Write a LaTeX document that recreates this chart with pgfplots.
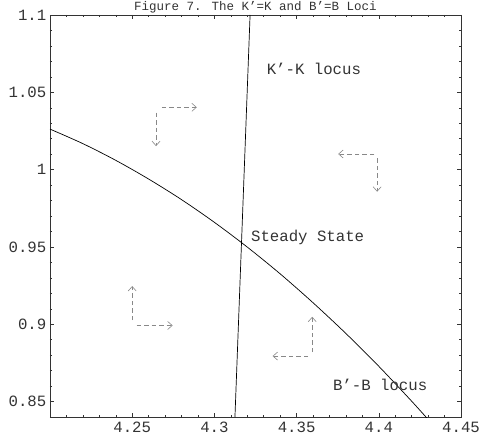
\documentclass[border=0pt]{standalone}
\usepackage{fontspec}
\setmainfont{Liberation Mono}
\usepackage{pgfplots}
\pgfplotsset{compat=1.18}
\usetikzlibrary{arrows.meta}

\definecolor{txt}{HTML}{333333}
\definecolor{flow}{HTML}{888888}

\begin{document}
\begin{tikzpicture}
\begin{axis}[
    name=ax,
    scale only axis,
    width=411pt, height=402pt,
    xmin=4.2, xmax=4.45,
    ymin=0.84, ymax=1.1,
    xtick={4.25,4.3,4.35,4.4,4.45},
    ytick={0.85,0.9,0.95,1,1.05,1.1},
    minor xtick={4.21,4.22,4.23,4.24,4.26,4.27,4.28,4.29,4.31,4.32,4.33,4.34,4.36,4.37,4.38,4.39,4.41,4.42,4.43,4.44},
    minor ytick={0.84,0.86,0.87,0.88,0.89,0.91,0.92,0.93,0.94,0.96,0.97,0.98,0.99,1.01,1.02,1.03,1.04,1.06,1.07,1.08,1.09},
    tick align=inside,
    xtick pos=both, ytick pos=both,
    major tick length=4pt, minor tick length=2pt,
    every tick/.style={black!80, line width=0.5pt},
    axis line style={black!80, line width=0.8pt},
    /pgf/number format/assume math mode=true,
    font=\fontsize{15.7}{18}\selectfont,
    tick label style={text=txt},
    yticklabel style={anchor=east, inner sep=0pt, xshift=-3.5pt},
    xticklabel style={anchor=base, inner sep=0pt, yshift=-15pt},
    title={Figure 7. The K'=K and B'=B Loci},
    every axis title/.style={at={(0.5,1)}, anchor=base, yshift=4pt, inner sep=0pt,
        text=txt, font=\fontsize{12.5}{14}\selectfont},
]
% K'-K locus
\addplot[black, line width=0.7pt] coordinates {(4.3125,0.84) (4.3217,1.1)};
% B'-B locus
\addplot[black, line width=0.7pt, smooth] coordinates {
(4.20,1.0262) (4.22,1.0168) (4.24,1.0060) (4.26,0.9939) (4.28,0.9806)
(4.30,0.9659) (4.32,0.9499) (4.34,0.9326) (4.36,0.9139) (4.38,0.8940)
(4.40,0.8728) (4.42,0.8502) (4.43,0.8384)};

% direction arrows
\pgfplotsset{flowarrow/.style={flow, line width=0.6pt, dash pattern=on 4.5pt off 3pt,
    -{Straight Barb[length=4.5pt,width=8pt]}}}
\addplot[flowarrow] coordinates {(4.2680,1.0403) (4.2893,1.0403)};
\addplot[flowarrow] coordinates {(4.2645,1.0368) (4.2645,1.0152)};
\addplot[flowarrow] coordinates {(4.3973,1.0101) (4.3753,1.0101)};
\addplot[flowarrow] coordinates {(4.3990,1.0073) (4.3990,0.9857)};
\addplot[flowarrow] coordinates {(4.2500,0.9027) (4.2500,0.9247)};
\addplot[flowarrow] coordinates {(4.2527,0.8992) (4.2746,0.8992)};
\addplot[flowarrow] coordinates {(4.3595,0.8819) (4.3595,0.9048)};
\addplot[flowarrow] coordinates {(4.3570,0.8794) (4.3354,0.8794)};

\node[anchor=base, text=txt, inner sep=0pt] at (axis cs:4.3605,1.0618) {K'-K locus};
\node[anchor=base, text=txt, inner sep=0pt] at (axis cs:4.3567,0.9533) {Steady State};
\node[anchor=base, text=txt, inner sep=0pt] at (axis cs:4.4008,0.8569) {B'-B locus};
\end{axis}
\pgfresetboundingbox
\path ([shift={(-50pt,-17pt)}]ax.south west) rectangle ([shift={(21pt,15pt)}]ax.north east);
\end{tikzpicture}
\end{document}
